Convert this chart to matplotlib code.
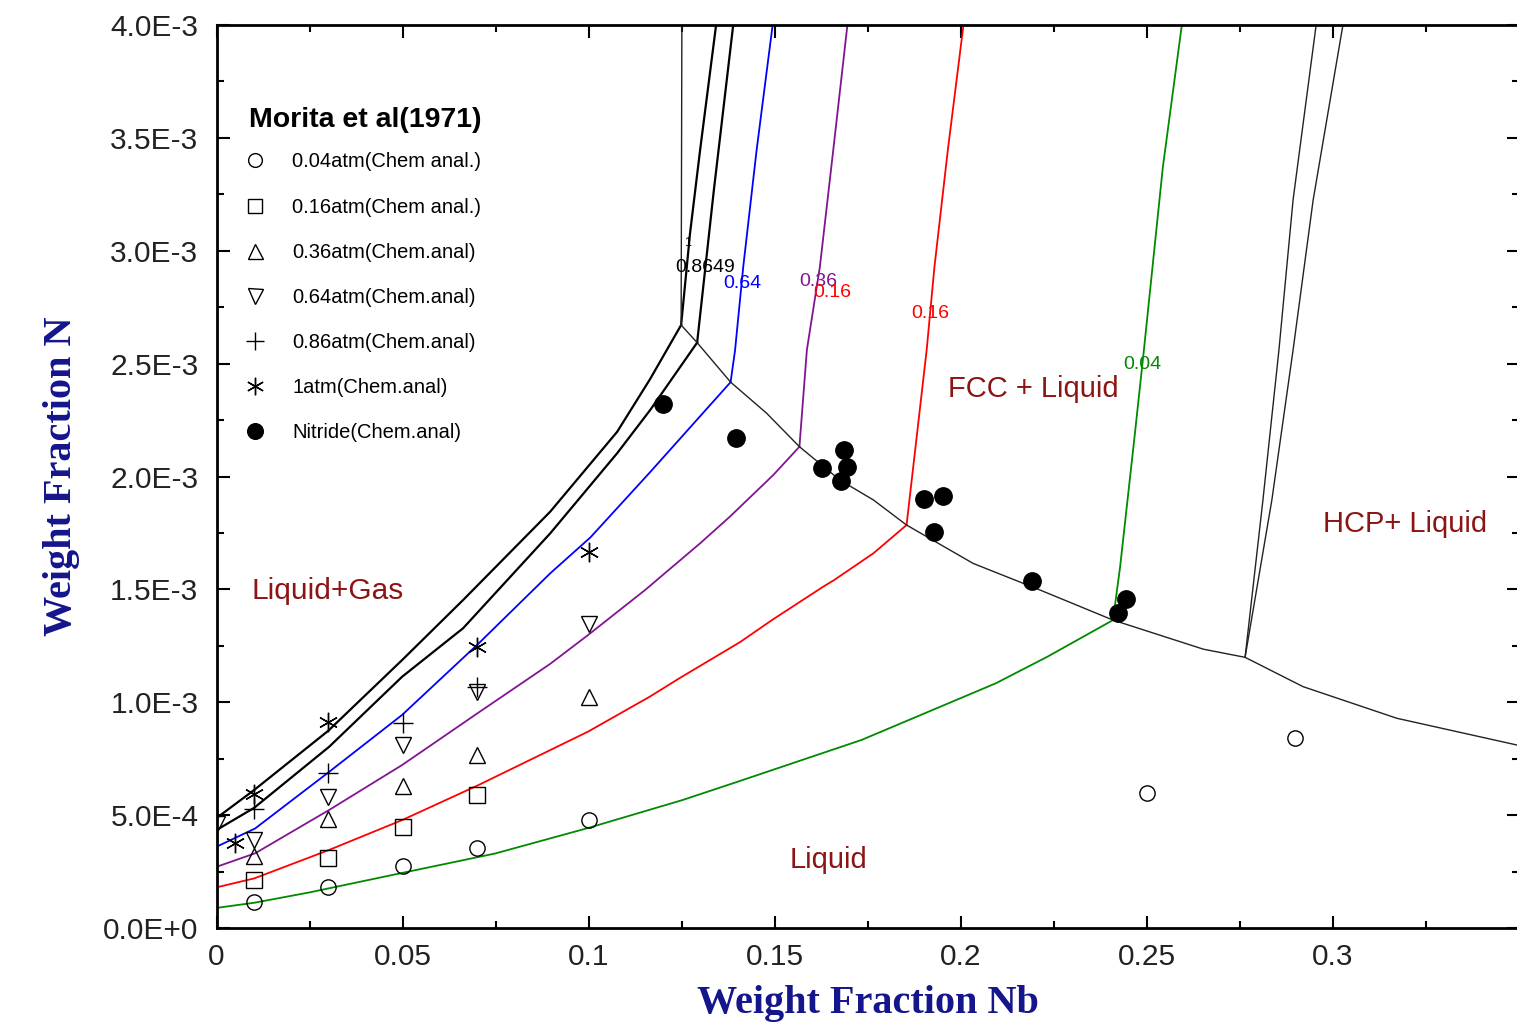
import numpy as np
import matplotlib
matplotlib.use('Agg')
import matplotlib.pyplot as plt
from matplotlib.ticker import MultipleLocator, FuncFormatter

plt.rcParams['font.family'] = ['Liberation Sans', 'DejaVu Sans']

# ---- calculated phase boundaries (x = wt. frac. Nb, y = wt. frac. N in 1e-3) ----
# liquid / liquid+gas boundaries, one per N2 pressure (lower branch, then upper branch)
atm1_x = [0, 0.0101, 0.0300, 0.0499, 0.0663, 0.0897, 0.1077, 0.1165, 0.1249]
atm1_y = [0.487, 0.611, 0.873, 1.187, 1.453, 1.844, 2.198, 2.430, 2.671]
atm1_up_x = [0.1249, 0.1273, 0.1300, 0.1343]
atm1_up_y = [2.671, 3.078, 3.446, 4.0]

atm08649_x = [0, 0.0101, 0.0303, 0.0499, 0.0663, 0.0897, 0.1077, 0.1166, 0.1292]
atm08649_y = [0.434, 0.532, 0.803, 1.113, 1.328, 1.748, 2.103, 2.295, 2.593]
atm08649_up_x = [0.1292, 0.1337, 0.1389]
atm08649_up_y = [2.593, 3.269, 4.0]

atm064_x = [0, 0.0104, 0.0303, 0.0499, 0.0705, 0.0897, 0.1005, 0.1166, 0.1382]
atm064_y = [0.360, 0.441, 0.692, 0.944, 1.261, 1.571, 1.730, 2.020, 2.418]
atm064_up_x = [0.1382, 0.1394, 0.1416, 0.1452, 0.1495]
atm064_up_y = [2.418, 2.560, 2.929, 3.447, 4.0]

atm036_x = [0, 0.0104, 0.0303, 0.0499, 0.0705, 0.0897, 0.0999, 0.1152, 0.1300, 0.1380, 0.1497, 0.1567]
atm036_y = [0.271, 0.331, 0.523, 0.722, 0.955, 1.170, 1.298, 1.497, 1.704, 1.822, 2.007, 2.132]
atm036_up_x = [0.1567, 0.1587, 0.1622, 0.1658, 0.1696]
atm036_up_y = [2.132, 2.560, 2.929, 3.447, 4.0]

atm016_x = [0, 0.0102, 0.0303, 0.0499, 0.0704, 0.0999, 0.1165, 0.1244, 0.1407, 0.1494, 0.1631, 0.1660, 0.1766, 0.1855]
atm016_y = [0.180, 0.220, 0.346, 0.478, 0.633, 0.870, 1.025, 1.106, 1.266, 1.365, 1.512, 1.541, 1.660, 1.785]
atm016_up_x = [0.1855, 0.1909, 0.1930, 0.1966, 0.2008]
atm016_up_y = [1.785, 2.560, 2.929, 3.447, 4.0]

atm004_x = [0, 0.0102, 0.0251, 0.0499, 0.0749, 0.0999, 0.1253, 0.1401, 0.1734, 0.2095, 0.2234, 0.2410]
atm004_y = [0.089, 0.112, 0.158, 0.244, 0.330, 0.443, 0.567, 0.648, 0.833, 1.084, 1.202, 1.364]
atm004_up_x = [0.2410, 0.2429, 0.2469, 0.2493, 0.2544, 0.2595]
atm004_up_y = [1.364, 1.599, 2.193, 2.560, 3.371, 4.0]

# liquidus (liquid / FCC, liquid / HCP)
liq_x = [0.1249, 0.1292, 0.1382, 0.1479, 0.1567, 0.1676, 0.1766, 0.1855, 0.2034, 0.2214,
         0.2410, 0.2653, 0.2765, 0.2921, 0.3173, 0.35]
liq_y = [2.671, 2.593, 2.418, 2.280, 2.132, 1.984, 1.896, 1.785, 1.615, 1.497,
         1.364, 1.235, 1.199, 1.069, 0.929, 0.809]
vert_x = [0.1249, 0.1251]
vert_y = [2.671, 4.0]
hcp_a_x = [0.2765, 0.2813, 0.2856, 0.2894, 0.2956]
hcp_b_x = [0.2765, 0.2837, 0.2894, 0.2948, 0.3028]
hcp_y = [1.199, 1.896, 2.560, 3.225, 4.0]

# ---- Morita et al (1971) measurements ----
p004_x = [0.01, 0.03, 0.05, 0.07, 0.10, 0.25, 0.29]
p004_y = [0.117, 0.180, 0.276, 0.353, 0.478, 0.599, 0.840]
p016_x = [0.01, 0.03, 0.05, 0.07]
p016_y = [0.213, 0.309, 0.449, 0.589]
p036_x = [0.01, 0.03, 0.05, 0.07, 0.10]
p036_y = [0.318, 0.482, 0.629, 0.766, 1.025]
p064_x = [0.0, 0.01, 0.03, 0.05, 0.07, 0.10]
p064_y = [0.460, 0.392, 0.582, 0.811, 1.047, 1.347]
p086_x = [0.01, 0.03, 0.05, 0.07]
p086_y = [0.527, 0.688, 0.907, 1.066]
p1_x = [0.005, 0.01, 0.03, 0.07, 0.10]
p1_y = [0.378, 0.592, 0.914, 1.246, 1.667]
nit_x = [0.1199, 0.1397, 0.1627, 0.1688, 0.1696, 0.1679, 0.1903, 0.1952, 0.1929, 0.2191, 0.2445, 0.2424]
nit_y = [2.321, 2.169, 2.036, 2.117, 2.043, 1.980, 1.900, 1.914, 1.755, 1.538, 1.457, 1.394]


def sc(v):
    # values above are in units of 1e-3
    return np.array(v) * 1e-3


fig = plt.figure(figsize=(15.17, 10.34), dpi=100)
ax = fig.add_axes([216.5 / 1517, 106 / 1034, 1302 / 1517, 903 / 1034])

BLUE, PURPLE, RED, GREEN = '#0000ff', '#80168f', '#ff0000', '#008a00'
DARKRED = '#8b1414'

ax.plot(atm1_x, sc(atm1_y), color='black', lw=1.6)
ax.plot(atm1_up_x, sc(atm1_up_y), color='black', lw=1.6)
ax.plot(atm08649_x, sc(atm08649_y), color='black', lw=1.6)
ax.plot(atm08649_up_x, sc(atm08649_up_y), color='black', lw=1.6)
ax.plot(atm064_x, sc(atm064_y), color=BLUE, lw=1.3)
ax.plot(atm064_up_x, sc(atm064_up_y), color=BLUE, lw=1.3)
ax.plot(atm036_x, sc(atm036_y), color=PURPLE, lw=1.3)
ax.plot(atm036_up_x, sc(atm036_up_y), color=PURPLE, lw=1.3)
ax.plot(atm016_x, sc(atm016_y), color=RED, lw=1.3)
ax.plot(atm016_up_x, sc(atm016_up_y), color=RED, lw=1.3)
ax.plot(atm004_x, sc(atm004_y), color=GREEN, lw=1.3)
ax.plot(atm004_up_x, sc(atm004_up_y), color=GREEN, lw=1.3)

ax.plot(liq_x, sc(liq_y), color='#222222', lw=1.0)
ax.plot(vert_x, sc(vert_y), color='#222222', lw=1.0)
ax.plot(hcp_a_x, sc(hcp_y), color='#222222', lw=1.0)
ax.plot(hcp_b_x, sc(hcp_y), color='#222222', lw=1.0)

# experimental points
h1, = ax.plot(p004_x, sc(p004_y), 'o', ms=11, mfc='none', mec='black', mew=1.0,
              label='0.04atm(Chem anal.)')
h2, = ax.plot(p016_x, sc(p016_y), 's', ms=11, mfc='none', mec='black', mew=1.0,
              label='0.16atm(Chem anal.)')
h3, = ax.plot(p036_x, sc(p036_y), '^', ms=12, mfc='none', mec='black', mew=1.0,
              label='0.36atm(Chem.anal)')
h4, = ax.plot(p064_x, sc(p064_y), 'v', ms=12, mfc='none', mec='black', mew=1.0,
              label='0.64atm(Chem.anal)')
h5, = ax.plot(p086_x, sc(p086_y), '+', ms=14, mec='black', mew=1.0,
              label='0.86atm(Chem.anal)')
h6, = ax.plot(p1_x, sc(p1_y), marker=(6, 2, 0), ls='none', ms=14, mec='black', mew=1.0,
              label='1atm(Chem.anal)')
h7, = ax.plot(nit_x, sc(nit_y), 'o', ms=12.5, color='black',
              label='Nitride(Chem.anal)')

# contour labels
ax.text(0.1267, 3.034e-3, '1', fontsize=9, color='black', ha='center', va='center')
ax.text(0.1313, 2.928e-3, '0.8649', fontsize=14, color='black', ha='center', va='center')
ax.text(0.1413, 2.857e-3, '0.64', fontsize=14, color=BLUE, ha='center', va='center')
ax.text(0.1617, 2.866e-3, '0.36', fontsize=14, color=PURPLE, ha='center', va='center')
ax.text(0.1655, 2.817e-3, '0.16', fontsize=14, color=RED, ha='center', va='center')
ax.text(0.1918, 2.724e-3, '0.16', fontsize=14, color=RED, ha='center', va='center')
ax.text(0.2488, 2.498e-3, '0.04', fontsize=14, color=GREEN, ha='center', va='center')

# phase region labels
ax.text(0.0298, 1.493e-3, 'Liquid+Gas', fontsize=21.5, color=DARKRED, ha='center', va='center')
ax.text(0.2195, 2.388e-3, 'FCC + Liquid', fontsize=21, color=DARKRED, ha='center', va='center')
ax.text(0.3195, 1.789e-3, 'HCP+ Liquid', fontsize=21, color=DARKRED, ha='center', va='center')
ax.text(0.1644, 0.301e-3, 'Liquid', fontsize=21, color=DARKRED, ha='center', va='center')

# legend: title drawn separately so its gap to the entries can be set
ax.text(0.025, 0.8947, 'Morita et al(1971)', transform=ax.transAxes, fontsize=20.5,
        fontweight='bold', ha='left', va='center')
leg = ax.legend(handles=[h1, h2, h3, h4, h5, h6, h7],
                loc='upper left', bbox_to_anchor=(0.008, 0.879), frameon=False,
                fontsize=14.5, handlelength=1.0, handletextpad=1.35, labelspacing=1.3,
                markerscale=0.9)

ax.set_xlim(0, 0.35)
ax.set_ylim(0, 4.0e-3)
ax.xaxis.set_major_locator(MultipleLocator(0.05))
ax.xaxis.set_minor_locator(MultipleLocator(0.025))
ax.yaxis.set_major_locator(MultipleLocator(0.5e-3))
ax.yaxis.set_minor_locator(MultipleLocator(0.25e-3))


def fmt_y(v, pos):
    if abs(v) < 1e-12:
        return '0.0E+0'
    e = int(np.floor(np.log10(abs(v)) + 1e-9))
    return f'{v / 10**e:.1f}E{e:+d}'


def fmt_x(v, pos):
    # the 0.35 label falls off the right edge in the original
    if v > 0.34:
        return ''
    return f'{round(v, 3):g}'


ax.yaxis.set_major_formatter(FuncFormatter(fmt_y))
ax.xaxis.set_major_formatter(FuncFormatter(fmt_x))
ax.tick_params(which='both', direction='in', top=True, right=True, width=1.5, colors='black')
ax.tick_params(which='major', length=9, labelsize=21.5, labelcolor='#222222')
ax.tick_params(axis='y', which='major', pad=13)
ax.tick_params(axis='x', which='major', pad=11)
ax.tick_params(which='minor', length=5)
for s in ax.spines.values():
    s.set_linewidth(2)

ax.set_xlabel('Weight Fraction Nb', fontsize=29, fontweight='bold', color='#15158c',
              family='Liberation Serif')
ax.set_ylabel('Weight Fraction N', fontsize=29, fontweight='bold', color='#15158c',
              family='Liberation Serif')
ax.xaxis.set_label_coords(0.5, -0.063)
ax.yaxis.set_label_coords(-0.105, 0.5)

fig.savefig('out.png', dpi=100)
plt.close(fig)
